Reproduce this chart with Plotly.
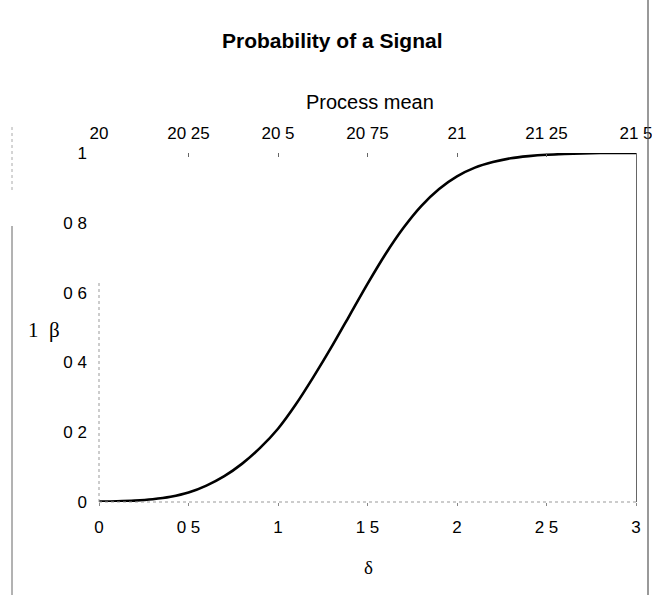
import plotly.graph_objects as go

# Shift in the mean (in standard-deviation units) and probability of a signal
delta = [0.0, 0.1, 0.2, 0.3, 0.4, 0.5, 0.6, 0.7, 0.8, 0.9, 1.0,
         1.1, 1.2, 1.3, 1.4, 1.5, 1.6, 1.7, 1.8, 1.9, 2.0,
         2.1, 2.2, 2.3, 2.4, 2.5, 2.6, 2.7, 2.8, 2.9, 3.0]
power = [0.001, 0.002, 0.004, 0.008, 0.015, 0.027, 0.047, 0.074, 0.11, 0.155, 0.21,
         0.28, 0.36, 0.445, 0.535, 0.625, 0.71, 0.785, 0.848, 0.897, 0.933,
         0.958, 0.974, 0.985, 0.991, 0.995, 0.997, 0.999, 1.0, 1.0, 1.0]

x_ticks = [0, 0.5, 1, 1.5, 2, 2.5, 3]
x_ticktext = ["0", "0 5", "1", "1 5", "2", "2 5", "3"]
y_ticks = [0, 0.2, 0.4, 0.6, 0.8, 1]
y_ticktext = ["0", "0 2", "0 4", "0 6", "0 8", "1"]
mean_ticks = [20, 20.25, 20.5, 20.75, 21, 21.25, 21.5]
mean_ticktext = ["20", "20 25", "20 5", "20 75", "21", "21 25", "21 5"]

SANS = "Liberation Sans, Arial, sans-serif"
SERIF = "Liberation Serif, Times New Roman, serif"

fig = go.Figure()
fig.add_trace(go.Scatter(
    x=delta, y=power, mode="lines",
    line=dict(color="black", width=2.6, shape="spline", smoothing=0.8),
    showlegend=False, hoverinfo="skip"))
# invisible trace that activates the top (process mean) axis and the right frame axis
fig.add_trace(go.Scatter(x=[mean_ticks[0], mean_ticks[-1]], y=[0, 0], xaxis="x2", yaxis="y2",
                         mode="markers", marker=dict(opacity=0), showlegend=False,
                         hoverinfo="skip"))

W, H = 652, 595
L, R, T, B = 99, 16, 153, 93
pw, ph = W - L - R, H - T - B

def px(xp):
    return (xp - L) / pw

def py(yp):
    return (H - B - yp) / ph

fig.update_layout(
    width=W, height=H, margin=dict(l=L, r=R, t=T, b=B, autoexpand=False),
    paper_bgcolor="white", plot_bgcolor="white",
    font=dict(family=SANS, size=17, color="black"),
    xaxis=dict(range=[0, 3], tickvals=x_ticks, ticktext=x_ticktext,
               showgrid=False, zeroline=False, showline=False, automargin=False,
               ticks="outside", ticklen=3, tickcolor="#888", ticklabeloverflow="allow",
               tickfont=dict(size=17), ticklabelstandoff=7),
    yaxis=dict(range=[0, 1], tickvals=y_ticks, ticktext=y_ticktext,
               showgrid=False, zeroline=False, showline=False, automargin=False,
               ticks="", tickfont=dict(size=17), ticklabelstandoff=11),
    xaxis2=dict(range=[20, 21.5], overlaying="x", side="top", anchor="y2",
                tickvals=mean_ticks, ticktext=mean_ticktext, automargin=False,
                showgrid=False, zeroline=False, showline=False, ticklabeloverflow="allow",
                ticks="inside", ticklen=4, tickcolor="#666",
                tickfont=dict(size=17), ticklabelstandoff=10),
    yaxis2=dict(range=[0, 1], overlaying="y", side="right", anchor="x2",
                showticklabels=False, ticks="", showgrid=False, zeroline=False,
                showline=True, linecolor="#666", linewidth=1, automargin=False),
)

shapes = [
    # plot frame: dotted left and bottom
    dict(type="line", xref="paper", yref="paper", x0=0, x1=0, y0=0, y1=py(283),
         line=dict(color="#999", width=1, dash="dot")),
    dict(type="line", xref="paper", yref="paper", x0=0, x1=1, y0=0, y1=0,
         line=dict(color="#999", width=1, dash="dot")),
    # page edges
    dict(type="line", xref="paper", yref="paper", x0=px(12), x1=px(12), y0=py(595), y1=py(226),
         line=dict(color="#666", width=1)),
    dict(type="line", xref="paper", yref="paper", x0=px(12), x1=px(12), y0=py(190), y1=py(125),
         line=dict(color="#aaa", width=1, dash="dot")),
    dict(type="line", xref="paper", yref="paper", x0=px(648), x1=px(648), y0=py(595), y1=py(0),
         line=dict(color="#555", width=1.2)),
]
for s in shapes:
    s["layer"] = "above"
fig.update_layout(shapes=shapes)

annotations = [
    dict(text="<b>Probability of a Signal</b>", x=px(332), y=py(41),
         font=dict(family=SANS, size=21)),
    dict(text="Process mean", x=px(370), y=py(102), font=dict(family=SANS, size=20)),
    dict(text="δ", x=px(368), y=py(567), font=dict(family=SERIF, size=19)),
    dict(text="1  β", x=px(44), y=py(330), font=dict(family=SERIF, size=21)),
]
for a in annotations:
    a.update(xref="paper", yref="paper", showarrow=False, xanchor="center", yanchor="middle")
fig.update_layout(annotations=annotations)

fig.write_html("out.html", config={"responsive": False})
